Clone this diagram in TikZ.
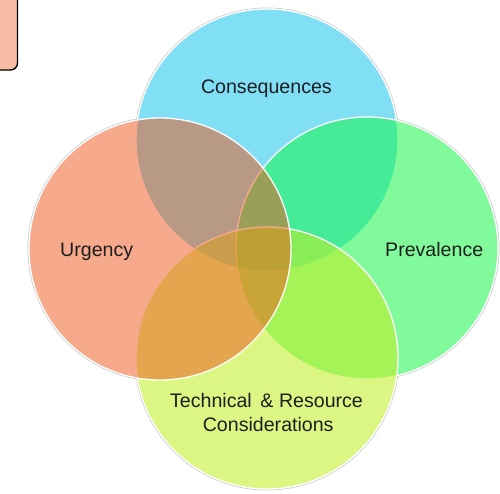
\documentclass[tikz,border=0pt]{standalone}
\usepackage{fontspec}
\setmainfont{Liberation Sans}
\definecolor{cT}{RGB}{128,222,245}
\definecolor{cR}{RGB}{17,247,68}
\definecolor{cB}{RGB}{193,240,31}
\definecolor{cL}{RGB}{239,85,25}
\definecolor{boxfill}{RGB}{249,189,166}
\definecolor{txt}{RGB}{30,30,30}
\tikzset{
  shadowring/.style={draw=black!22, line width=1.2pt},
  whiteback/.style={fill=white},
  vcircle/.style={draw=white, line width=1.3pt},
  vlabel/.style={text=txt, font=\fontsize{19.6}{23.5}\selectfont, anchor=base, inner sep=0pt},
  cornerbox/.style={draw=black, line width=1.4pt, fill=boxfill, rounded corners=7pt}
}
\begin{document}
\begin{tikzpicture}[x=1pt,y=-1pt]
\useasboundingbox (0,0) rectangle (500,493);
% corner box
\path[cornerbox] (-20,-20) rectangle (17.5,70);
% outer shadow rings
\foreach \cx/\cy in {267/140,367/248,267/358,160/249}
  \path[shadowring] (\cx,\cy) circle[radius=131.8];
\foreach \cx/\cy in {267/140,367/248,267/358,160/249}
  \path[whiteback] (\cx,\cy) circle[radius=131.5];
% circles
\path[vcircle, fill=cT] (267,140) coordinate (tc) circle[radius=131];
\path[vcircle, fill=cR, fill opacity=0.53] (367,248) coordinate (rc) circle[radius=131];
\path[vcircle, fill=cB, fill opacity=0.55] (267,358) coordinate (bc) circle[radius=131];
\path[vcircle, fill=cL, fill opacity=0.5] (160,249) coordinate (lc) circle[radius=131];
% labels
\node[vlabel] (cons) at (266.4,93) {Consequences};
\node[vlabel] (urg) at (96.7,256) {Urgency};
\node[vlabel] (prev) at (434.2,256.5) {Prevalence};
\node[vlabel] (tech1) at (266.5,407.7) {Technical \,\& Resource};
\node[vlabel] (tech2) at (268.2,431) {Considerations};
\end{tikzpicture}
\end{document}
